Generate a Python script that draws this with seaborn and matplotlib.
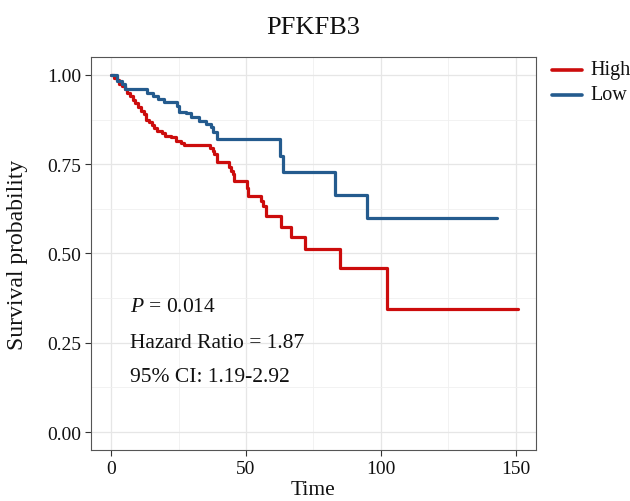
import numpy as np
import pandas as pd
import matplotlib
matplotlib.use("Agg")
import matplotlib.pyplot as plt
import seaborn as sns
from matplotlib.ticker import MultipleLocator

# Kaplan-Meier step values per group (time, survival after each event)
high_time = [0, 1, 2, 3, 4, 5, 6, 7, 8, 9, 10, 11, 12, 13, 14, 15, 16, 17,
             19, 20, 22, 24, 26, 27, 36.7, 37.6, 38.2, 39.4, 43.8, 44.4, 45.0,
             45.6, 50.2, 50.6, 55.6, 56.2, 57.5, 63.0, 66.8, 71.8, 85.0, 102.2, 151.0]
high_surv = [1.0, 0.99, 0.985, 0.975, 0.97, 0.96, 0.95, 0.94, 0.93, 0.92, 0.91,
             0.90, 0.89, 0.875, 0.868, 0.86, 0.85, 0.843, 0.836, 0.83, 0.825,
             0.816, 0.81, 0.804, 0.795, 0.788, 0.779, 0.757, 0.741, 0.732, 0.723,
             0.704, 0.683, 0.662, 0.648, 0.634, 0.606, 0.573, 0.545, 0.513, 0.459,
             0.345, 0.345]

low_time = [0, 2.0, 4.0, 5.2, 13.3, 15.5, 17.5, 19.4, 24.5, 25.1, 27.6, 29.5,
            32.6, 35.0, 36.9, 37.6, 39.4, 62.7, 63.7, 83.0, 94.8, 142.9]
low_surv = [1.0, 0.984, 0.975, 0.961, 0.950, 0.941, 0.932, 0.925, 0.912, 0.897,
            0.892, 0.882, 0.872, 0.862, 0.853, 0.839, 0.820, 0.774, 0.727, 0.664,
            0.599, 0.599]

groups = ["High", "Low"]
palette = {"High": "#CC0C0C", "Low": "#245B8E"}

title = "PFKFB3"
x_ticks = [0, 50, 100, 150]
y_ticks = [0.00, 0.25, 0.50, 0.75, 1.00]
y_tick_labels = ["0.00", "0.25", "0.50", "0.75", "1.00"]
p_value = "0.014"
hazard_ratio = "1.87"
ci_text = "1.19-2.92"

df = pd.concat([
    pd.DataFrame({"time": high_time, "surv": high_surv, "group": "High"}),
    pd.DataFrame({"time": low_time, "surv": low_surv, "group": "Low"}),
], ignore_index=True)

sns.set_theme(style="white")
plt.rcParams["font.family"] = ["Liberation Serif", "DejaVu Serif"]
plt.rcParams["mathtext.fontset"] = "custom"
plt.rcParams["mathtext.it"] = "Liberation Serif:italic"
plt.rcParams["mathtext.rm"] = "Liberation Serif"

fig = plt.figure(figsize=(6.30, 5.02), dpi=100)
ax = fig.add_axes([0.1444, 0.1016, 0.7064, 0.7829])

sns.lineplot(data=df, x="time", y="surv", hue="group", hue_order=groups,
             palette=palette, drawstyle="steps-post", estimator=None,
             sort=False, linewidth=2.3, ax=ax, legend=False)

ax.set_xlim(-7.5, 157.5)
ax.set_ylim(-0.05, 1.05)
ax.set_xticks(x_ticks)
ax.set_yticks(y_ticks)
ax.set_yticklabels(y_tick_labels)
ax.xaxis.set_minor_locator(MultipleLocator(25))
ax.yaxis.set_minor_locator(MultipleLocator(0.125))
ax.grid(True, which="major", color="#E6E6E6", linewidth=0.9)
ax.grid(True, which="minor", color="#F0F0F0", linewidth=0.6)
ax.set_axisbelow(True)
for s in ax.spines.values():
    s.set_color("#555555")
    s.set_linewidth(0.8)
ax.tick_params(axis="both", which="major", direction="out", length=4,
               width=0.8, color="#333333", labelsize=14, labelcolor="#111111",
               pad=3, bottom=True, left=True)
ax.tick_params(axis="both", which="minor", length=0)

ax.set_xlabel("Time", fontsize=15.5, color="#111111")
ax.set_ylabel("Survival probability", fontsize=17, color="#111111")
ax.xaxis.set_label_coords(0.5, -0.1)
ax.yaxis.set_label_coords(-0.164, 0.5)
ax.xaxis.label.set_verticalalignment("center")
ax.yaxis.label.set_verticalalignment("center")

fig.text(0.4976, 0.944, title, ha="center", va="center", fontsize=19,
         color="#111111")

ax.text(7, 0.353, r"$P$ = " + p_value, fontsize=15.5, color="#111111",
        ha="left", va="center")
ax.text(7, 0.252, "Hazard Ratio = " + hazard_ratio, fontsize=15.5,
        color="#111111", ha="left", va="center")
ax.text(7, 0.157, "95% CI: " + ci_text, fontsize=15.5, color="#111111",
        ha="left", va="center")

# legend outside the panel on the right
for i, g in enumerate(groups):
    yfig = 1 - (71 + 25 * i) / 502
    fig.add_artist(plt.Line2D([552 / 630, 582 / 630], [yfig, yfig],
                              color=palette[g], linewidth=2.6,
                              transform=fig.transFigure))
    fig.text(590 / 630, yfig, g, ha="left", va="center", fontsize=14.5,
             color="#111111")

fig.savefig("out.png", dpi=100)
